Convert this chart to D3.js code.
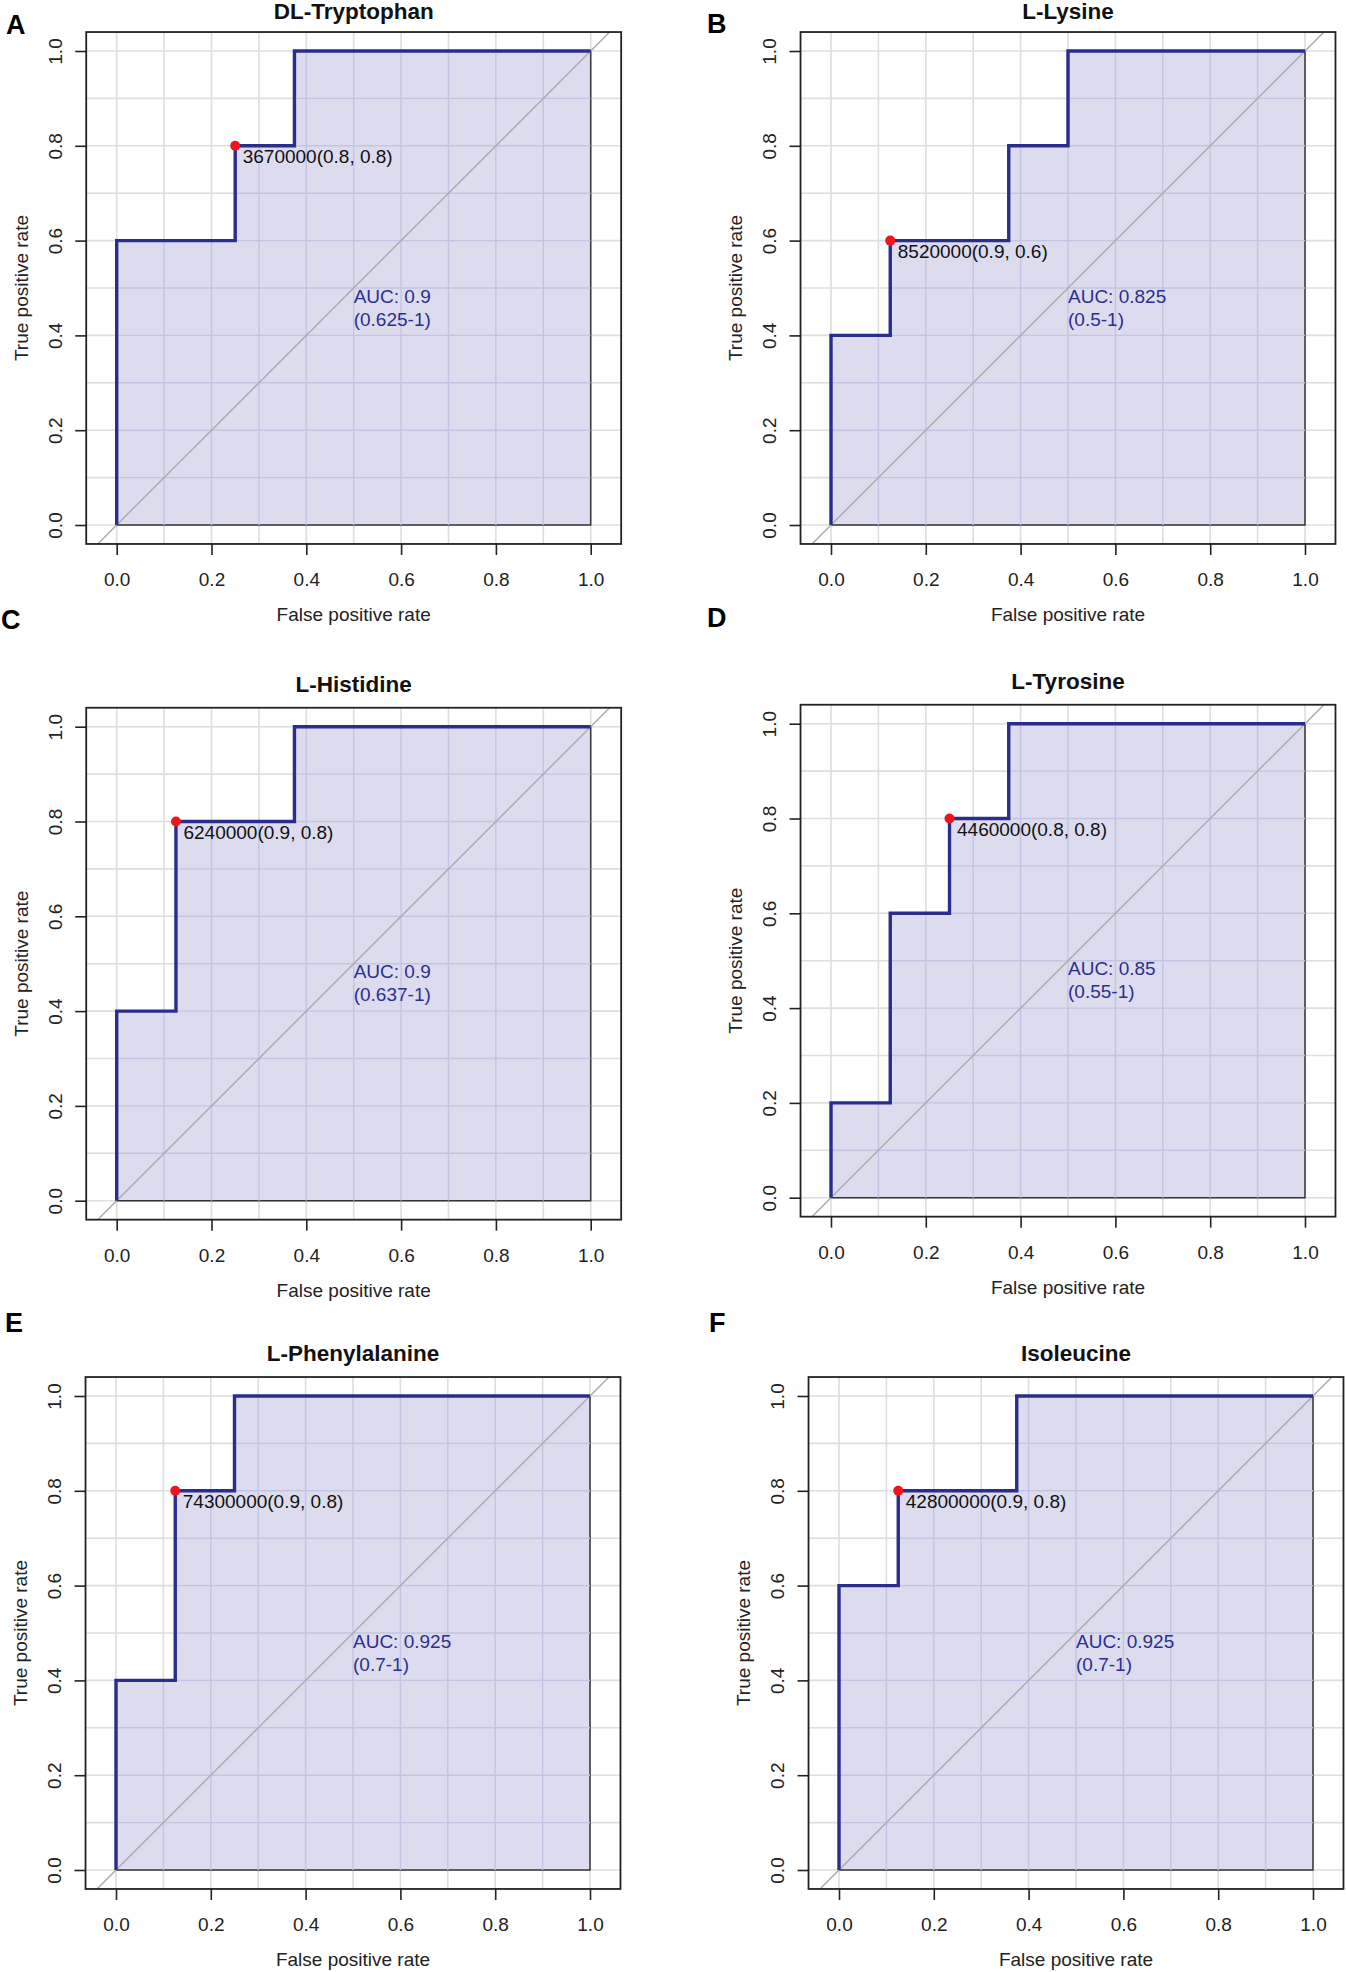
<!DOCTYPE html>
<html>
<head>
<meta charset="utf-8">
<script src="https://cdn.jsdelivr.net/npm/d3@7"></script>
<style>
  body { margin: 0; background: #fff; }
  svg text { font-family: "Liberation Sans", Arial, Helvetica, sans-serif; }
</style>
</head>
<body>
<div id="chart"></div>
<script>
// ---- data ----
const panelLetters = ["A", "B", "C", "D", "E", "F"];
const panelTitles = ["DL-Tryptophan", "L-Lysine", "L-Histidine", "L-Tyrosine", "L-Phenylalanine", "Isoleucine"];

// ROC step curves (false positive rate, true positive rate)
const rocFpr = [
  [0, 0, 0.25, 0.25, 0.375, 0.375, 1],
  [0, 0, 0.125, 0.125, 0.375, 0.375, 0.5, 0.5, 1],
  [0, 0, 0.125, 0.125, 0.375, 0.375, 1],
  [0, 0, 0.125, 0.125, 0.25, 0.25, 0.375, 0.375, 1],
  [0, 0, 0.125, 0.125, 0.25, 0.25, 1],
  [0, 0, 0.125, 0.125, 0.375, 0.375, 1]
];
const rocTpr = [
  [0, 0.6, 0.6, 0.8, 0.8, 1, 1],
  [0, 0.4, 0.4, 0.6, 0.6, 0.8, 0.8, 1, 1],
  [0, 0.4, 0.4, 0.8, 0.8, 1, 1],
  [0, 0.2, 0.2, 0.6, 0.6, 0.8, 0.8, 1, 1],
  [0, 0.4, 0.4, 0.8, 0.8, 1, 1],
  [0, 0.6, 0.6, 0.8, 0.8, 1, 1]
];

// best threshold points
const bestFpr = [0.25, 0.125, 0.125, 0.25, 0.125, 0.125];
const bestTpr = [0.8, 0.6, 0.8, 0.8, 0.8, 0.8];
const bestLabels = ["3670000(0.8, 0.8)", "8520000(0.9, 0.6)", "6240000(0.9, 0.8)",
                    "4460000(0.8, 0.8)", "74300000(0.9, 0.8)", "42800000(0.9, 0.8)"];

const aucValues = ["0.9", "0.825", "0.9", "0.85", "0.925", "0.925"];
const aucCIs = ["0.625-1", "0.5-1", "0.637-1", "0.55-1", "0.7-1", "0.7-1"];

const tickValues = [0, 0.2, 0.4, 0.6, 0.8, 1.0];
const gridValues = [0, 0.1, 0.2, 0.3, 0.4, 0.5, 0.6, 0.7, 0.8, 0.9, 1.0];

// ---- layout (pixel position of data origin x=0 and data y=1) ----
const W = 1346, H = 1972;
const SPAN = 474;
const layout = [
  { x0: 116.7, y1: 51,    lx: 6,   ly: 34 },
  { x0: 831,   y1: 51,    lx: 707, ly: 33 },
  { x0: 116.7, y1: 726.7, lx: 1,   ly: 629 },
  { x0: 831,   y1: 723.7, lx: 707, ly: 627 },
  { x0: 116,   y1: 1396,  lx: 5,   ly: 1332 },
  { x0: 839,   y1: 1396,  lx: 709, ly: 1332 }
];

const rocColor = "#2a2d8a";
const fillColor = "#dcdcee";
const innerGrid = "#c4c4e2";

const svg = d3.select("#chart").append("svg")
  .attr("width", W).attr("height", H)
  .attr("viewBox", `0 0 ${W} ${H}`);

panelTitles.forEach((title, i) => {
  const L = layout[i];
  const x = d3.scaleLinear().domain([0, 1]).range([L.x0, L.x0 + SPAN]);
  const y = d3.scaleLinear().domain([0, 1]).range([L.y1 + SPAN, L.y1]);

  const left = x(-0.0643), right = x(1.0643);
  const top = y(1.04), bottom = y(-0.04);

  const g = svg.append("g");

  // clip to plotting box
  const clipId = `clip-${i}`;
  svg.append("clipPath").attr("id", clipId)
    .append("rect")
    .attr("x", left).attr("y", top)
    .attr("width", right - left).attr("height", bottom - top);

  const pts = rocFpr[i].map((f, k) => [f, rocTpr[i][k]]);
  const polyPts = pts.concat([[1, 0]]);

  const polyClipId = `poly-${i}`;
  svg.append("clipPath").attr("id", polyClipId)
    .append("path")
    .attr("d", d3.line().x(d => x(d[0])).y(d => y(d[1]))(polyPts) + "Z");

  // grid
  const grid = g.append("g").attr("clip-path", `url(#${clipId})`);
  grid.selectAll("line.vg").data(gridValues).enter().append("line")
    .attr("x1", d => x(d)).attr("x2", d => x(d))
    .attr("y1", top).attr("y2", bottom)
    .attr("stroke", "#dedede").attr("stroke-width", 1.6);
  grid.selectAll("line.hg").data(gridValues).enter().append("line")
    .attr("y1", d => y(d)).attr("y2", d => y(d))
    .attr("x1", left).attr("x2", right)
    .attr("stroke", "#dedede").attr("stroke-width", 1.6);

  // AUC polygon
  g.append("path")
    .attr("d", d3.line().x(d => x(d[0])).y(d => y(d[1]))(polyPts) + "Z")
    .attr("fill", fillColor)
    .attr("stroke", "#333")
    .attr("stroke-width", 1.5);

  // grid seen through the polygon
  const ig = g.append("g").attr("clip-path", `url(#${polyClipId})`);
  ig.selectAll("line.vg").data(gridValues.slice(1, -1)).enter().append("line")
    .attr("x1", d => x(d)).attr("x2", d => x(d))
    .attr("y1", y(0)).attr("y2", y(1))
    .attr("stroke", innerGrid).attr("stroke-width", 1.4);
  ig.selectAll("line.hg").data(gridValues.slice(1, -1)).enter().append("line")
    .attr("y1", d => y(d)).attr("y2", d => y(d))
    .attr("x1", x(0)).attr("x2", x(1))
    .attr("stroke", innerGrid).attr("stroke-width", 1.4);

  // chance diagonal
  g.append("line")
    .attr("clip-path", `url(#${clipId})`)
    .attr("x1", x(-0.1)).attr("y1", y(-0.1))
    .attr("x2", x(1.1)).attr("y2", y(1.1))
    .attr("stroke", "#aaaaaa").attr("stroke-width", 1.4);

  // ROC curve
  g.append("path")
    .attr("d", d3.line().x(d => x(d[0])).y(d => y(d[1]))(pts))
    .attr("fill", "none")
    .attr("stroke", rocColor)
    .attr("stroke-width", 3.4)
    .attr("stroke-linejoin", "miter");

  // box
  g.append("rect")
    .attr("x", left).attr("y", top)
    .attr("width", right - left).attr("height", bottom - top)
    .attr("fill", "none").attr("stroke", "#222").attr("stroke-width", 1.8);

  // axes
  const xAxis = g.append("g")
    .attr("transform", `translate(0,${bottom})`)
    .call(d3.axisBottom(x).tickValues(tickValues).tickSize(11).tickPadding(18)
      .tickFormat(d3.format(".1f")));
  xAxis.select(".domain").remove();
  xAxis.selectAll("line").attr("stroke", "#222").attr("stroke-width", 1.6);
  xAxis.selectAll("text").attr("font-size", 19).attr("fill", "#222")
    .attr("font-family", "Liberation Sans, Arial, sans-serif");

  const yAxis = g.append("g")
    .attr("transform", `translate(${left},0)`)
    .call(d3.axisLeft(y).tickValues(tickValues).tickSize(11)
      .tickFormat(d3.format(".1f")));
  yAxis.select(".domain").remove();
  yAxis.selectAll("line").attr("stroke", "#222").attr("stroke-width", 1.6);
  yAxis.selectAll("text")
    .attr("x", 0).attr("dy", null)
    .attr("text-anchor", "middle")
    .attr("transform", "translate(-24.5,0) rotate(-90)")
    .attr("font-size", 19).attr("fill", "#222")
    .attr("font-family", "Liberation Sans, Arial, sans-serif");

  // axis titles
  g.append("text")
    .attr("x", x(0.5)).attr("y", bottom + 77)
    .attr("text-anchor", "middle").attr("font-size", 19).attr("fill", "#222")
    .text("False positive rate");
  g.append("text")
    .attr("transform", `translate(${left - 58.5},${y(0.5)}) rotate(-90)`)
    .attr("text-anchor", "middle").attr("font-size", 19).attr("fill", "#222")
    .text("True positive rate");

  // title (kept just inside the page at the top row)
  g.append("text")
    .attr("x", (left + right) / 2).attr("y", Math.max(top - 16, 19))
    .attr("text-anchor", "middle").attr("font-size", 22.5)
    .attr("font-weight", "bold").attr("fill", "#111")
    .text(title);

  // panel letter
  svg.append("text")
    .attr("x", L.lx).attr("y", L.ly)
    .attr("font-size", 27).attr("font-weight", "bold").attr("fill", "#000")
    .text(panelLetters[i]);

  // best threshold
  const px = x(bestFpr[i]), py = y(bestTpr[i]);
  g.append("circle")
    .attr("cx", px).attr("cy", py).attr("r", 5)
    .attr("fill", "#f0141e");
  g.append("text")
    .attr("x", px + 7.5).attr("y", py + 17.5)
    .attr("font-size", 19).attr("fill", "#111")
    .text(bestLabels[i]);

  // AUC text
  const aucText = g.append("text")
    .attr("font-size", 19).attr("fill", "#2b2f8f");
  aucText.append("tspan")
    .attr("x", x(0.5)).attr("y", y(0.5) + 14.5)
    .text(`AUC: ${aucValues[i]}`);
  aucText.append("tspan")
    .attr("x", x(0.5)).attr("y", y(0.5) + 37.5)
    .text(`(${aucCIs[i]})`);
});
</script>
</body>
</html>
